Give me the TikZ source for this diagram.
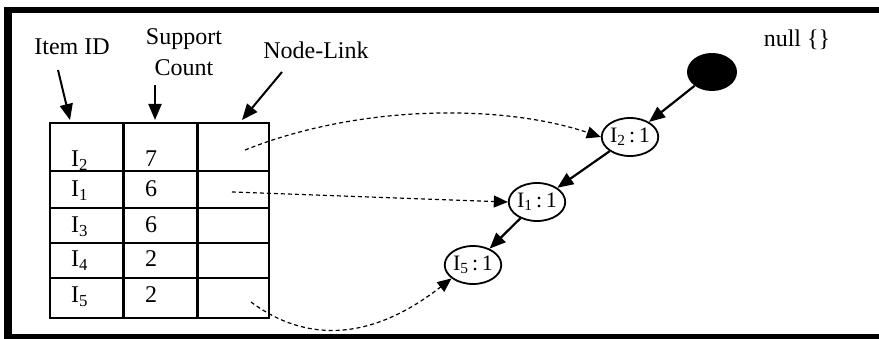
\documentclass[tikz,border=0pt]{standalone}
\usepackage{fontspec}
\setmainfont{Liberation Serif}
\usetikzlibrary{arrows.meta,shapes.geometric}
\begin{document}
\begin{tikzpicture}[x=1pt,y=-1pt,
  cell/.style={font=\fontsize{24}{26}\selectfont, inner sep=0},
  lbl/.style={font=\fontsize{24}{31}\selectfont, inner sep=0, align=center},
  fpnode/.style={draw, line width=1.8pt, ellipse, minimum width=49pt, minimum height=38pt,
                 inner sep=0, font=\fontsize{22}{24}\selectfont},
  rootnode/.style={fill=black, ellipse, minimum width=50pt, minimum height=38pt, inner sep=0},
  treearrow/.style={line width=2.2pt, -{Triangle[length=16pt,width=13pt]}},
  labelarrow/.style={line width=2pt, -{Triangle[length=16pt,width=13pt]}},
  linkarrow/.style={line width=1.2pt, dash pattern=on 4pt off 3pt,
                    -{Triangle[length=14pt,width=12pt]}},
  gridline/.style={line width=2.5pt},
  colline/.style={line width=3pt},
  frame/.style={fill=black}
]
\useasboundingbox (0,0) rectangle (879,339);

% outer frame
\fill[frame] (4,7) rectangle (12,339);
\fill[frame] (4,7) rectangle (879,13);
\fill[frame] (4,334) rectangle (879,339);

% header table
\draw[gridline] (50,123) rectangle (269,318);
\draw[colline] (123,123) -- (123,318);
\draw[colline] (197,123) -- (197,318);
\foreach \y in {171,208,243,278} \draw[gridline] (50,\y) -- (269,\y);

\node[cell, anchor=base west] (id2) at (71,167) {I\textsubscript{2}};
\node[cell, anchor=base west] (id1) at (71,197) {I\textsubscript{1}};
\node[cell, anchor=base west] (id3) at (71,233) {I\textsubscript{3}};
\node[cell, anchor=base west] (id4) at (71,267) {I\textsubscript{4}};
\node[cell, anchor=base west] (id5) at (71,303) {I\textsubscript{5}};

\node[cell, anchor=base] (sc2) at (151,167) {7};
\node[cell, anchor=base] (sc1) at (151,197) {6};
\node[cell, anchor=base] (sc3) at (151,233) {6};
\node[cell, anchor=base] (sc4) at (151,267) {2};
\node[cell, anchor=base] (sc5) at (151,303) {2};

% node-link starting points
\coordinate (nl2) at (245,150);
\coordinate (nl1) at (232,192);
\coordinate (nl5) at (251,302);

% column labels
\node[lbl] (itemlbl) at (72,47) {Item ID};
\node[lbl] (suplbl) at (184,52) {Support\\Count};
\node[lbl] (linklbl) at (316,50) {Node-Link};
\coordinate (itemfrom) at (58,70);
\coordinate (itemto) at (70,120);
\coordinate (supfrom) at (155,85);
\coordinate (supto) at (155,120);
\coordinate (linkfrom) at (282,72);
\coordinate (linkto) at (242,120);
\draw[labelarrow] (itemfrom) -- (itemto);
\draw[labelarrow] (supfrom) -- (supto);
\draw[labelarrow] (linkfrom) -- (linkto);

% FP-tree
\node[lbl] (nulllbl) at (797,40) {null \{\}};
\node[rootnode] (root) at (712,72) {};
\node[fpnode] (i2) at (630,137) {I\textsubscript{2}\,:\,1};
\node[fpnode] (i1) at (537,202) {I\textsubscript{1}\,:\,1};
\node[fpnode] (i5) at (473,265) {I\textsubscript{5}\,:\,1};

\draw[treearrow] (root) -- (i2);
\draw[treearrow] (i2) -- (i1);
\draw[treearrow] (i1) -- (i5);

% node links
\draw[linkarrow] (nl2) .. controls (360,104) and (503,104) .. (i2.west);
\draw[linkarrow] (nl1) -- (i1.west);
\draw[linkarrow] (nl5) .. controls (295,335) and (360,350) .. (i5.212);
\end{tikzpicture}
\end{document}
